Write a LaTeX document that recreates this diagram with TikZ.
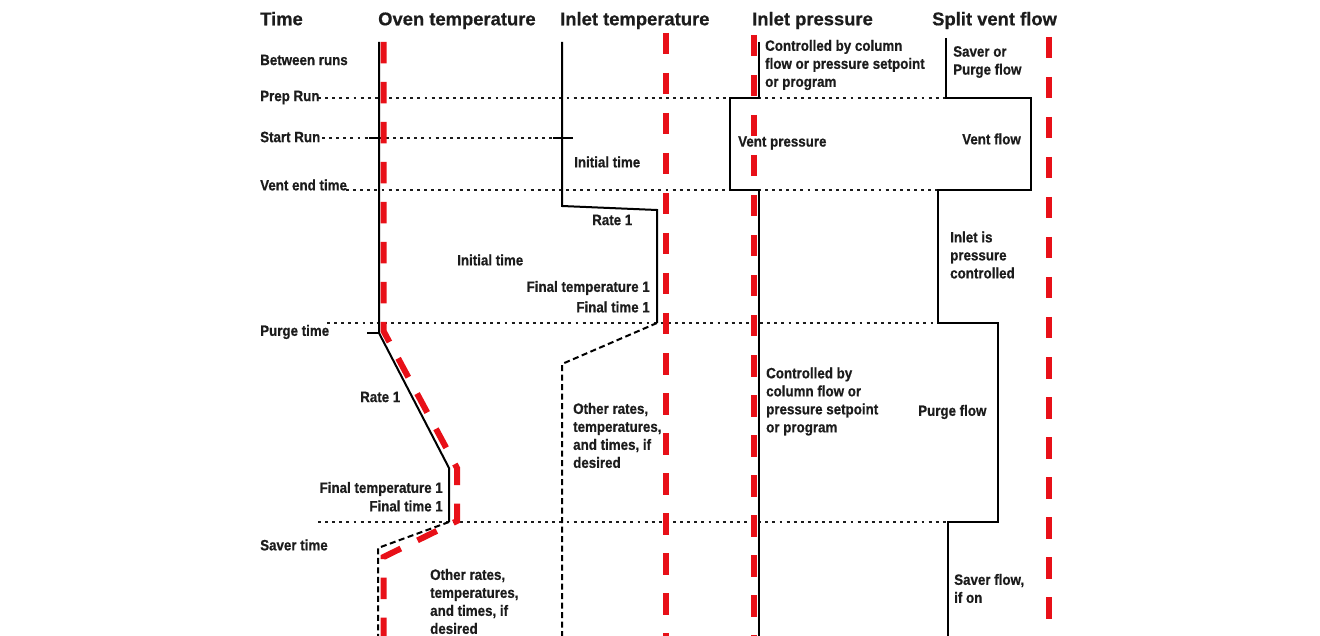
\documentclass[tikz,border=0pt]{standalone}
\usepackage{fontspec}
\newfontfamily\lblfont{Liberation Sans}[FakeStretch=0.89, BoldFeatures={FakeBold=0.6}]
\newfontfamily\ttlfont{Liberation Sans}[BoldFeatures={FakeBold=0.6}]
\definecolor{txt}{RGB}{28,28,28}
\definecolor{redl}{RGB}{232,16,24}
\tikzset{
  lbl/.style={font=\fontsize{15}{18}\selectfont\lblfont\bfseries, text=txt, inner sep=0pt, align=left, anchor=west},
  lble/.style={lbl, anchor=east, align=right},
  ttl/.style={font=\fontsize{18.4}{22}\selectfont\ttlfont\bfseries, text=txt, inner sep=0pt, anchor=base west},
  dotline/.style={line width=2.9pt, txt, dash pattern=on 2.9pt off 4.2pt},
  solidline/.style={line width=2pt, black, line join=miter},
  dashline/.style={line width=2pt, black, dash pattern=on 6pt off 3.5pt},
  redline/.style={line width=6pt, redl, dash pattern=on 21.5pt off 18.5pt}
}
\begin{document}
\begin{tikzpicture}[x=1pt,y=-1pt]
\useasboundingbox (0,0) rectangle (1320,636);
\fill[white] (0,0) rectangle (1320,636);

% titles
\node[ttl] (tTime) at (260,25.3) {Time};
\node[ttl] (tOven) at (378,25.3) {Oven temperature};
\node[ttl] (tInT) at (560,25.3) {Inlet temperature};
\node[ttl] (tInP) at (752,25.3) {Inlet pressure};
\node[ttl] (tSplit) at (932,25.3) {Split vent flow};

% dotted time lines
\draw[dotline] (318,98) -- (945,98);
\draw[dotline] (322,138) -- (555,138);
\draw[dotline] (346,190) -- (937,190);
\draw[dotline] (327,323) -- (936,323);
\draw[dotline] (318,522) -- (946,522);

% oven temperature (black)
\draw[solidline] (379,42) -- (379,333) -- (449,468) -- (449,522);
\draw[solidline] (367,333) -- (379,333);
\draw[solidline] (369,138) -- (386,138);
\draw[dashline] (449,522) -- (378,548) -- (378,636);

% inlet temperature (black)
\draw[solidline] (562,42) -- (562,206) -- (657,210) -- (657,323);
\draw[solidline] (553,138) -- (573,138);
\draw[dashline] (657,323) -- (562,364) -- (562,636);

% inlet pressure (black)
\draw[solidline] (759,42) -- (759,98) -- (730,98) -- (730,190) -- (759,190) -- (759,636);

% split vent flow (black)
\draw[solidline] (946,38) -- (946,98) -- (1031,98) -- (1031,190) -- (938,190) -- (938,323) -- (998,323) -- (998,522) -- (948,522) -- (948,636);

% red dashed lines
\draw[redline] (383.5,42) -- (383.5,331) -- (457,468) -- (457,521) -- (383.5,557) -- (383.5,636);
\draw[redline] (665.5,33) -- (665.5,636);
\draw[redline] (754,35) -- (754,636);
\draw[redline] (1049,37) -- (1049,636);

% row labels
\node[lbl] (rBetween) at (260,60) {Between runs};
\node[lbl] (rPrep) at (260,97.5) {Prep Run};
\node[lbl] (rStart) at (260,137) {Start Run};
\node[lbl] (rVent) at (260,185) {Vent end time};
\node[lbl] (rPurge) at (260,332) {Purge time};
\node[lbl] (rSaver) at (260,545) {Saver time};

% labels
\node[lbl] (lCtrl1) at (765,65) {Controlled by column\\flow or pressure setpoint\\or program};
\node[lbl] (lSaverPurge) at (953,62) {Saver or\\Purge flow};
\node[lbl] (lVentP) at (738,143) {Vent pressure};
\node[lbl] (lVentF) at (962,139) {Vent flow};
\node[lbl] (lInitIn) at (574,162) {Initial time};
\node[lbl] (lRateIn) at (592,220) {Rate 1};
\node[lbl] (lInitOv) at (457,260) {Initial time};
\node[lble] (lFinTIn) at (650,288) {Final temperature 1};
\node[lble] (lFinTmIn) at (650,307) {Final time 1};
\node[lbl] (lInletIs) at (950,255) {Inlet is\\pressure\\controlled};
\node[lbl] (lCtrl2) at (766,401.5) {Controlled by\\column flow or\\pressure setpoint\\or program};
\node[lbl] (lPurgeF) at (918,412) {Purge flow};
\node[lbl] (lRateOv) at (360,397) {Rate 1};
\node[lbl] (lOtherIn) at (573,435.5) {Other rates,\\temperatures,\\and times, if\\desired};
\node[lble] (lFinTOv) at (443,489) {Final temperature 1};
\node[lble] (lFinTmOv) at (443,506) {Final time 1};
\node[lbl] (lOtherOv) at (430,601.5) {Other rates,\\temperatures,\\and times, if\\desired};
\node[lbl] (lSaverF) at (954,588.5) {Saver flow,\\if on};
\end{tikzpicture}
\end{document}
